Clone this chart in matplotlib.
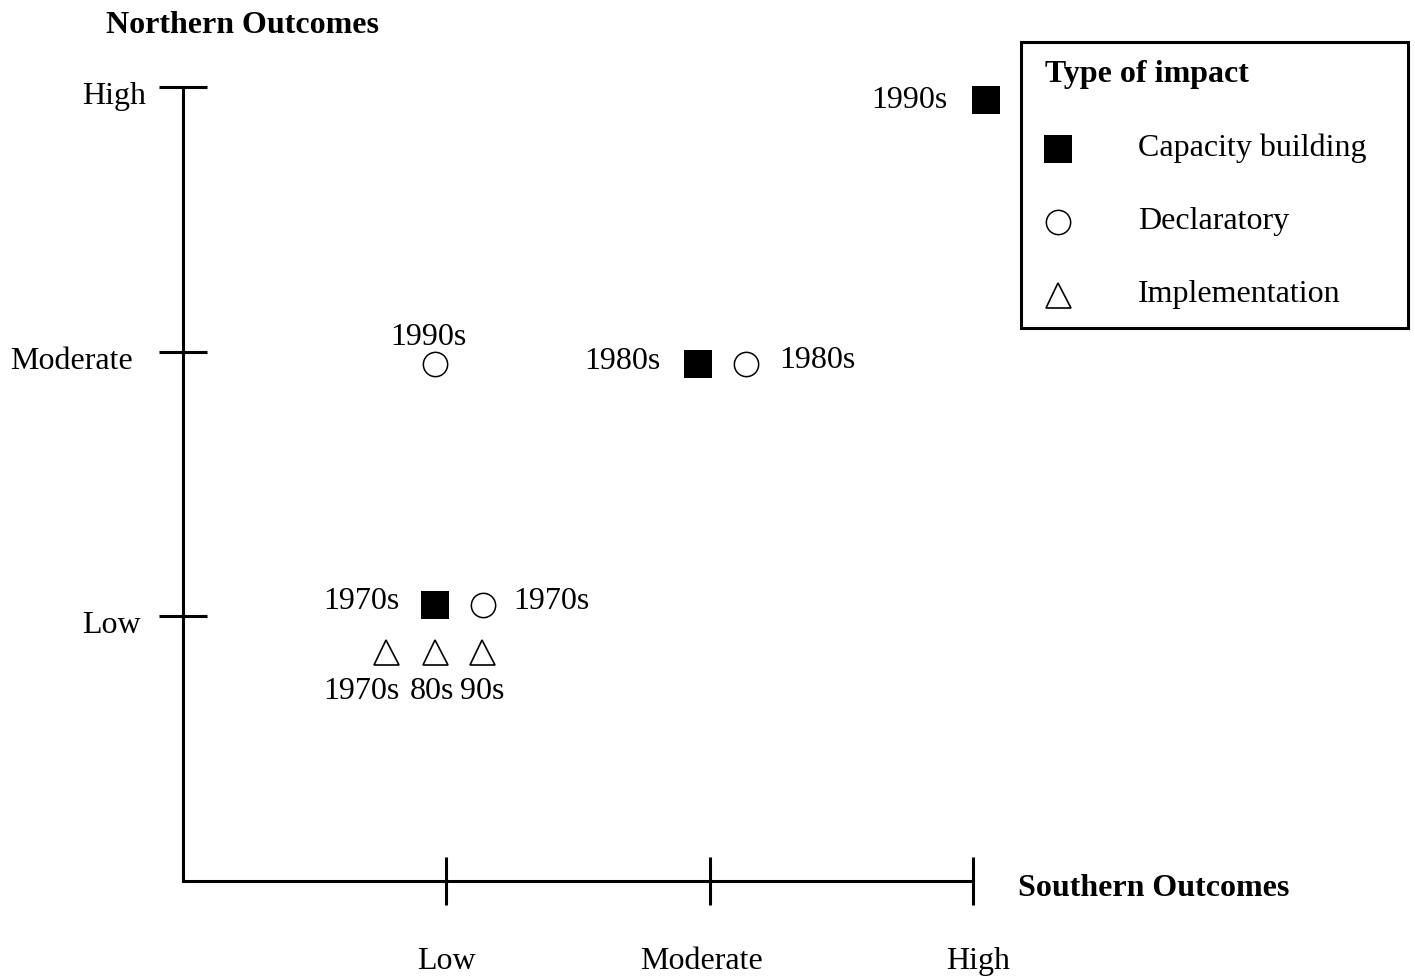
import matplotlib
matplotlib.use('Agg')
import numpy as np
import matplotlib.pyplot as plt
from matplotlib.lines import Line2D
from matplotlib.patches import Rectangle
from matplotlib.transforms import ScaledTranslation
from matplotlib.legend_handler import HandlerLine2D

plt.rcParams['font.family'] = ['Liberation Serif', 'DejaVu Serif']

W, H, DPI = 1415, 978, 100
FS = 23

# ---------------- data ----------------
levels = ['Low', 'Moderate', 'High']
level_pos = [1, 2, 3]

cap_x = [3.05, 1.957, 0.956]
cap_y = [2.952, 1.953, 1.044]
cap_labels = ['1990s', '1980s', '1970s']

dec_x = [0.956, 2.138, 1.138]
dec_y = [1.953, 1.952, 1.044]
dec_labels = ['1990s', '1980s', '1970s']

imp_x = [0.772, 0.956, 1.136]
imp_y = [0.865, 0.865, 0.865]
imp_labels = ['1970s', '80s', '90s']

legend_names = ['Capacity building', 'Declaratory', 'Implementation']

# ---------------- layout ----------------
cap_off = [(-38.5, -7, 'right'), (-37.5, -3.5, 'right'), (-35.5, -3.5, 'right')]
dec_off = [(-6, 20, 'center'), (33, -3, 'left'), (30.5, -3.5, 'left')]
imp_off = [(-25, -46, 'center'), (-3, -46, 'center'), (0.5, -46, 'center')]
ylab_dx = [-100.7, -172.7, -100.7]
xlab_dx = [0, -8, 4.5]


class ShiftedHandler(HandlerLine2D):
    """Line2D legend handler that nudges the marker down a little."""
    def __init__(self, shift=0.0, **kw):
        super().__init__(**kw)
        self._shift = shift

    def create_artists(self, *args, **kwargs):
        artists = super().create_artists(*args, **kwargs)
        for a in artists:
            a.set_ydata(np.asarray(a.get_ydata(), dtype=float) - self._shift)
        return artists


fig = plt.figure(figsize=(W / DPI, H / DPI), dpi=DPI)
ax = fig.add_axes([182.7 / W, (H - 881.7) / H, 790.5 / W, (881.7 - 88.2) / H])
ax.set_xlim(0, 3)
ax.set_ylim(0, 3)
for s in ['top', 'right']:
    ax.spines[s].set_visible(False)
for s in ['left', 'bottom']:
    ax.spines[s].set_linewidth(2.2)

ax.set_xticks(level_pos, levels)
ax.set_yticks(level_pos, [''] * 3)
ax.tick_params(axis='both', direction='inout', length=35, width=2.2)
ax.tick_params(axis='x', pad=29.5, labelsize=FS)
for lbl, dx in zip(ax.get_xticklabels(), xlab_dx):
    lbl.set_transform(lbl.get_transform() + ScaledTranslation(dx / DPI, 0, fig.dpi_scale_trans))

for lab, y, dx in zip(levels, level_pos, ylab_dx):
    ax.annotate(lab, xy=(0, y), xycoords=ax.get_yaxis_transform(),
                xytext=(dx, -16), textcoords='offset pixels',
                ha='left', va='baseline', fontsize=FS, annotation_clip=False)

sq_kw = dict(marker='s', ms=19.5, mew=0, color='black', ls='none', clip_on=False)
ci_kw = dict(marker='o', ms=17.5, mew=1.1, mfc='white', mec='black', ls='none', clip_on=False)
tr_kw = dict(marker='^', ms=18, mew=1.2, mfc='white', mec='black', ls='none', clip_on=False)

ax.plot(cap_x, cap_y, **sq_kw)
ax.plot(dec_x, dec_y, **ci_kw)
ax.plot(imp_x, imp_y, **tr_kw)

for xs, ys, labs, offs in [(cap_x, cap_y, cap_labels, cap_off),
                           (dec_x, dec_y, dec_labels, dec_off),
                           (imp_x, imp_y, imp_labels, imp_off)]:
    for x, y, lab, (dx, dy, ha) in zip(xs, ys, labs, offs):
        ax.annotate(lab, xy=(x, y), xytext=(dx, dy), textcoords='offset pixels',
                    ha=ha, va='baseline', fontsize=FS, annotation_clip=False)

# axis titles
fig.text(106 / W, 1 - 33 / H, 'Northern Outcomes', fontsize=FS, fontweight='bold',
         ha='left', va='baseline')
fig.text(1018 / W, 1 - 896 / H, 'Southern Outcomes', fontsize=FS, fontweight='bold',
         ha='left', va='baseline')

# legend
handles = [Line2D([], [], **sq_kw), Line2D([], [], **ci_kw), Line2D([], [], **tr_kw)]
leg = fig.legend(handles, legend_names, loc='upper left',
                 bbox_to_anchor=(1045 / W, 1 - 60 / H), bbox_transform=fig.transFigure,
                 frameon=False, borderpad=0, borderaxespad=0,
                 title='Type of impact', title_fontproperties={'weight': 'bold', 'size': FS},
                 alignment='left', fontsize=FS, handlelength=0.81, handletextpad=2.1,
                 handleheight=0.15, labelspacing=1.38, numpoints=1,
                 handler_map={Line2D: ShiftedHandler(shift=2.2)})
fig.add_artist(Rectangle((1021 / W, 1 - 329 / H), (1408 - 1021) / W, (329 - 43) / H,
                         transform=fig.transFigure, fill=False, lw=2.2, ec='black'))

fig.savefig('out.png', dpi=DPI)
